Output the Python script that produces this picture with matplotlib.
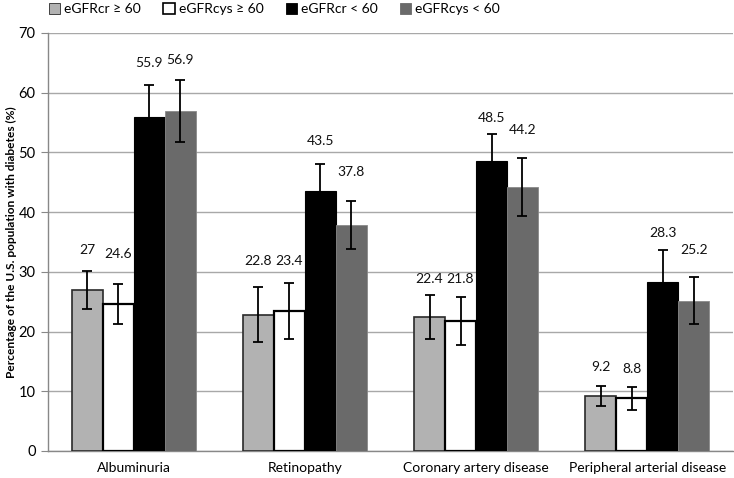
import matplotlib
matplotlib.use("Agg")
import matplotlib.pyplot as plt
import numpy as np
from matplotlib.patches import Patch

plt.rcParams["font.family"] = ["Lato", "DejaVu Sans"]

CATEGORIES = ["Albuminuria", "Retinopathy", "Coronary artery disease", "Peripheral arterial disease"]
SERIES = ["eGFRcr \u2265 60", "eGFRcys \u2265 60", "eGFRcr < 60", "eGFRcys < 60"]

# percentages per series, one value per category
cr_ge60 = [27, 22.8, 22.4, 9.2]
cys_ge60 = [24.6, 23.4, 21.8, 8.8]
cr_lt60 = [55.9, 43.5, 48.5, 28.3]
cys_lt60 = [56.9, 37.8, 44.2, 25.2]

# error bar half-widths
cr_ge60_err = [3.2, 4.6, 3.7, 1.7]
cys_ge60_err = [3.3, 4.7, 4.0, 1.9]
cr_lt60_err = [5.4, 4.5, 4.6, 5.4]
cys_lt60_err = [5.2, 4.0, 4.8, 4.0]

values = [cr_ge60, cys_ge60, cr_lt60, cys_lt60]
errors = [cr_ge60_err, cys_ge60_err, cr_lt60_err, cys_lt60_err]

# value labels were hand-placed in the original; offset above bar top (data units)
label_offsets = [
    [6.6, 9.0, 6.4, 4.8],
    [8.4, 8.4, 7.0, 4.9],
    [9.1, 8.4, 7.3, 8.2],
    [8.6, 9.0, 9.6, 8.5],
]

FACES = ["#b2b2b2", "#ffffff", "#000000", "#6a6a6a"]
EDGES = ["#2a2a2a", "#000000", "#000000", "#8a8a8a"]
LWS = [1.2, 1.6, 0.8, 0.6]

fig = plt.figure(figsize=(7.34, 4.78), dpi=100)
ax = fig.add_axes([0.0654, 0.0565, 0.933, 0.8745])

x = np.arange(len(CATEGORIES))
width = 0.181
for i, (vals, errs) in enumerate(zip(values, errors)):
    pos = x + (i - 1.5) * width
    ax.bar(pos, vals, width, color=FACES[i], edgecolor=EDGES[i], linewidth=LWS[i],
           zorder=3, label=SERIES[i])
    ax.errorbar(pos, vals, yerr=errs, fmt="none", ecolor="black", elinewidth=1.3,
                capsize=3.5, capthick=1.3, zorder=4)
    for px, v, off in zip(pos, vals, label_offsets[i]):
        ax.text(px, v + off, f"{v:g}", ha="center", va="center", fontsize=10, color="#111111")

ax.set_xlim(-0.5, len(CATEGORIES) - 0.5)
ax.set_ylim(0, 70)
ax.set_yticks(range(0, 71, 10))
ax.set_xticks(x)
ax.set_xticklabels(CATEGORIES, fontsize=10)
ax.tick_params(axis="x", length=0, pad=8)
ax.tick_params(axis="y", length=5, color="#888888", labelsize=10.5, pad=4)
ax.grid(axis="y", color="#a8a8a8", linewidth=1.0, zorder=0)
for s in ["top", "right"]:
    ax.spines[s].set_visible(False)
for s in ["left", "bottom"]:
    ax.spines[s].set_color("#888888")
    ax.spines[s].set_linewidth(1.0)

ax.set_ylabel("Percentage of the U.S. population with diabetes (%)", fontsize=8.6,
              fontweight="bold")
ax.yaxis.set_label_coords(-0.046, 0.5)

handles = [Patch(facecolor=FACES[i], edgecolor=EDGES[i] if i != 3 else FACES[i],
                 linewidth=1.2 if i == 1 else 0.6) for i in range(4)]
fig.legend(handles, SERIES, loc="upper left", bbox_to_anchor=(0.05, 1.02), ncol=4,
           frameon=False, fontsize=10, handlelength=0.8, handleheight=0.8,
           handletextpad=0.3, columnspacing=1.6)

fig.savefig("out.png", dpi=100)
